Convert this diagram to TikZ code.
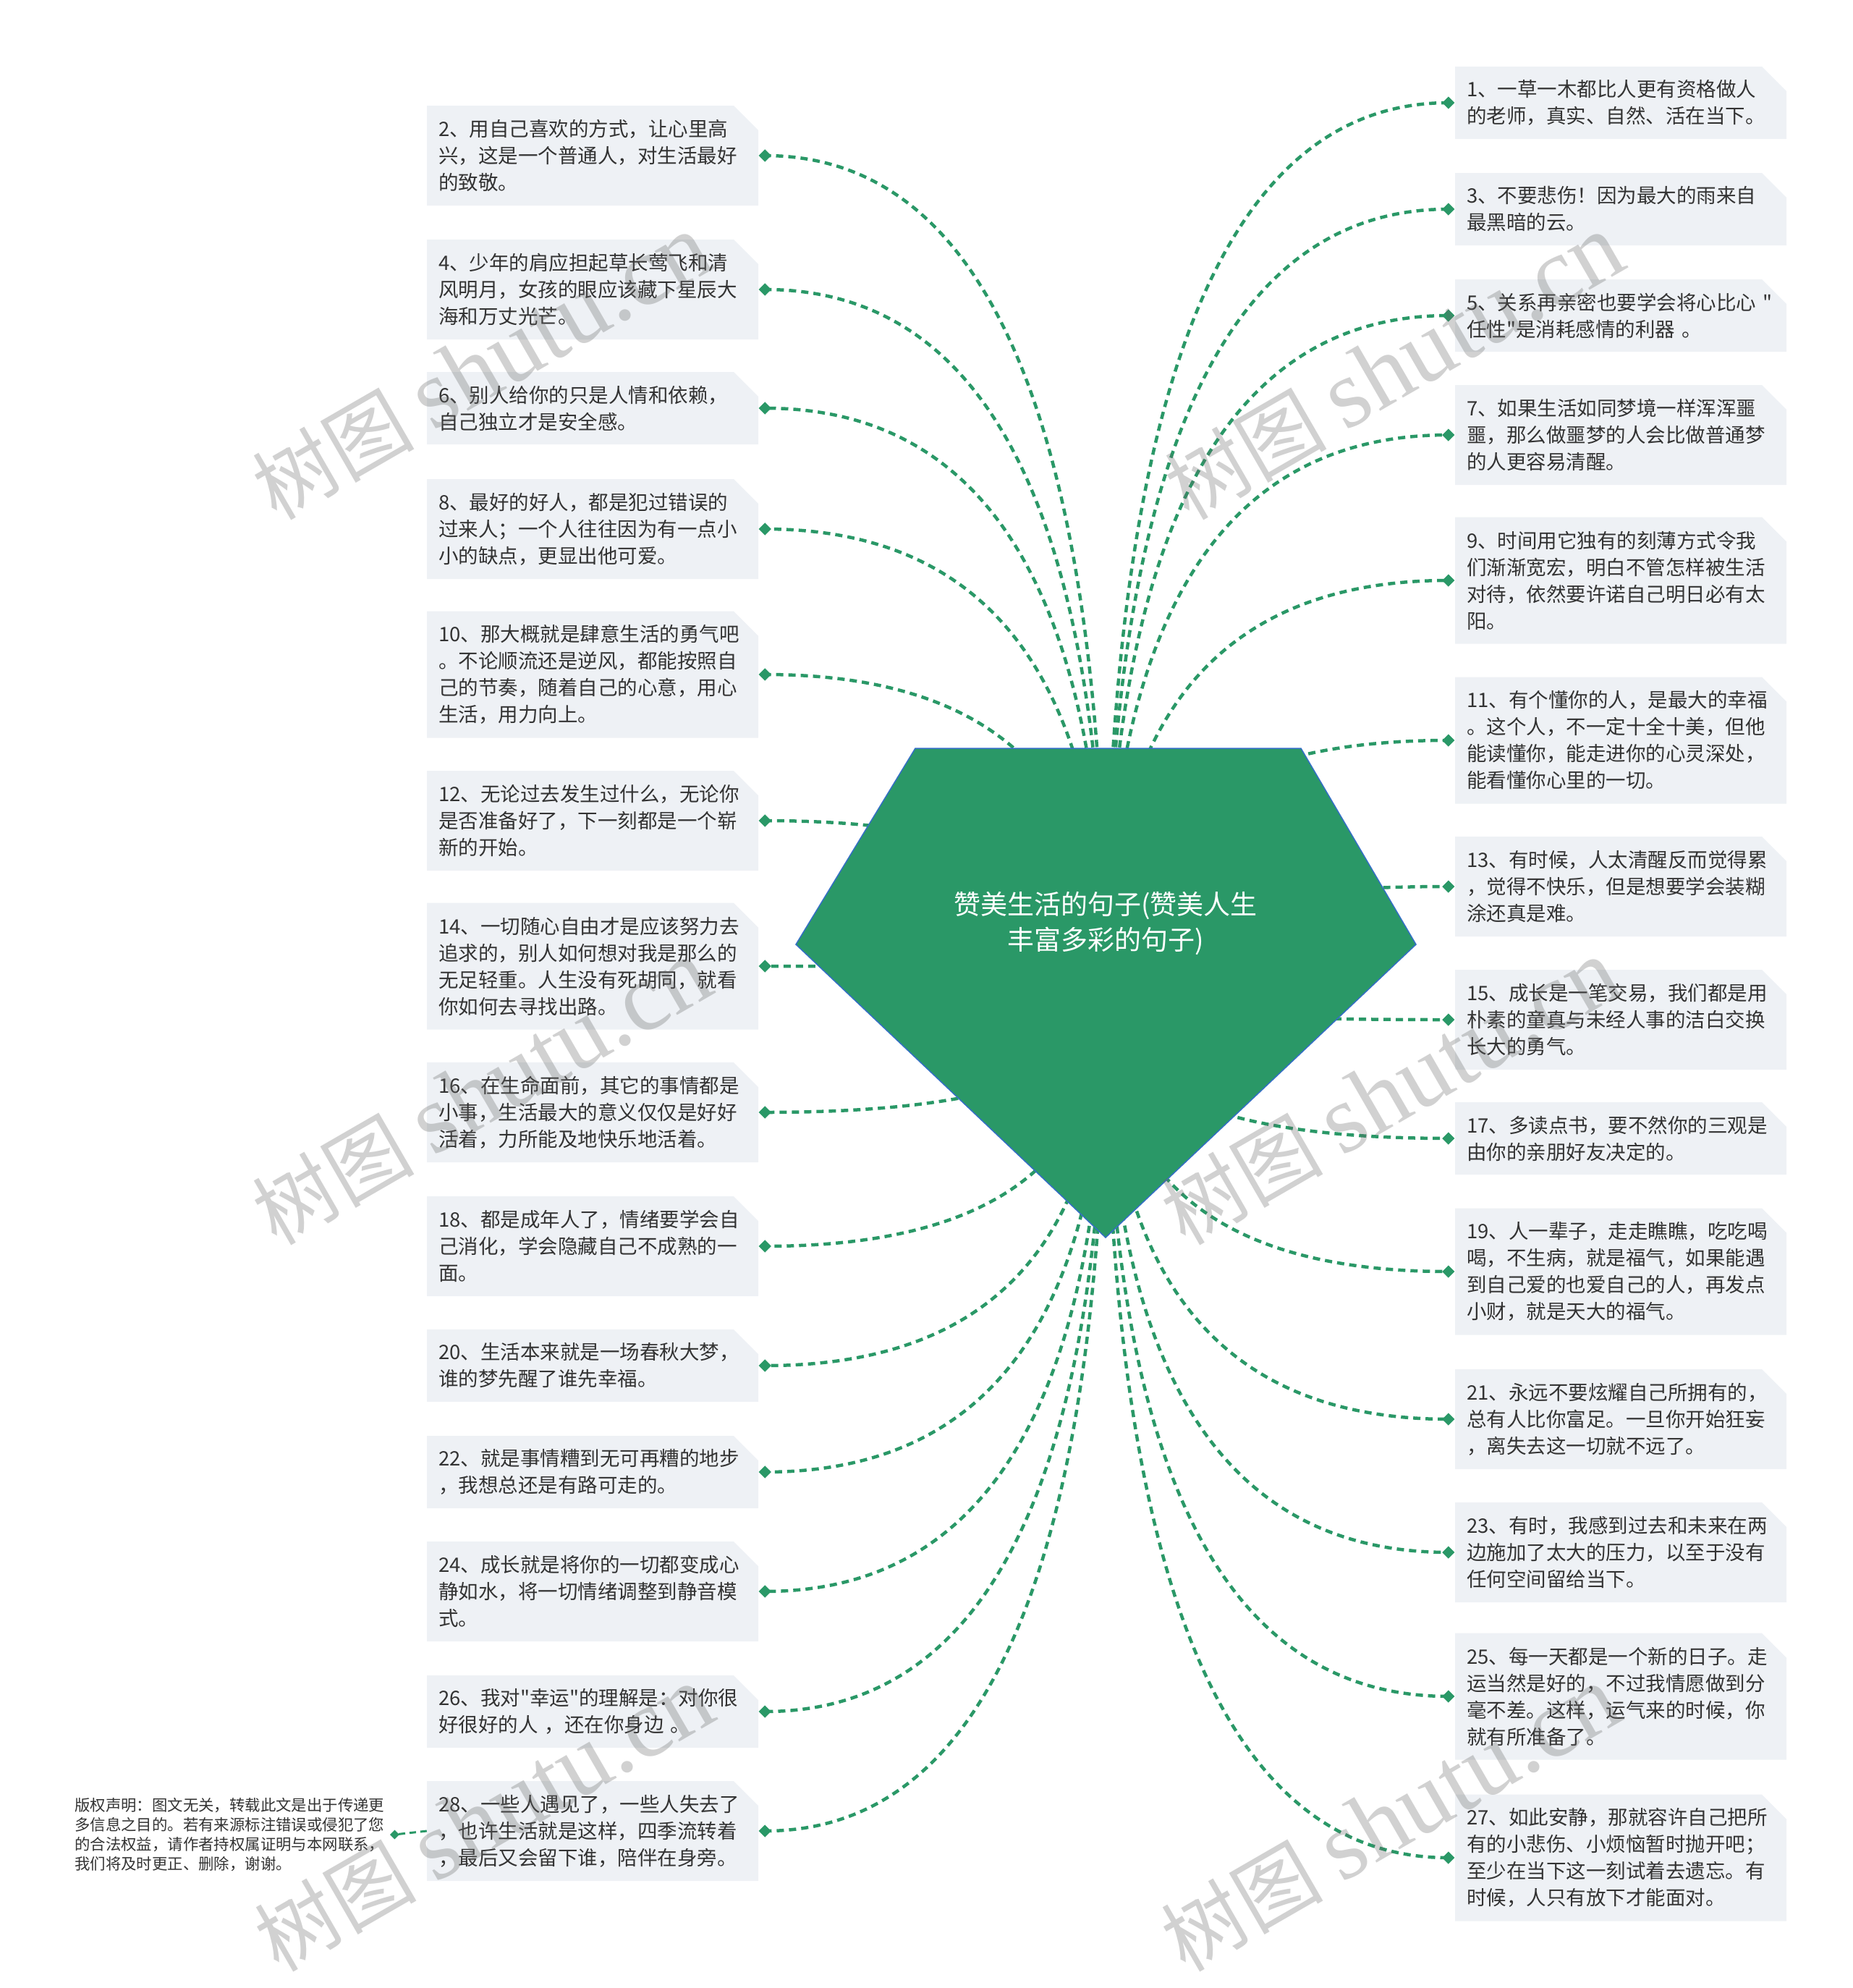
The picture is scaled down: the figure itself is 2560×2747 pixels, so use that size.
\documentclass[tikz,border=0pt]{standalone}
\usepackage{fontspec}
\setmainfont{Noto Sans CJK SC}[Ligatures=TeXOff]
\newfontfamily\wmlatin{Liberation Serif}
\usetikzlibrary{calc,shapes.geometric,shapes.misc}
\definecolor{leaf}{RGB}{42,152,103}
\definecolor{rim}{RGB}{52,110,198}
\definecolor{paper}{RGB}{238,241,245}
\definecolor{ink}{RGB}{51,51,51}
\def\linkto[#1]#2{%
  \coordinate (tip) at ([xshift=#1]#2);
  \draw[twig] (hub) .. controls ($(hub)!.667!(hub |- tip)$) and ($(tip)!.667!(hub |- tip)$) .. (tip) node[gem] {};}

\begin{document}
\begin{tikzpicture}[x=1pt, y=-1pt,
    quote/.style={chamfered rectangle, chamfered rectangle corners=north east,
      chamfered rectangle xsep=16pt, chamfered rectangle ysep=18pt,
      fill=paper, text=ink, font=\fontsize{27.5}{37}\selectfont,
      align=left, text width=426pt, inner xsep=0pt, inner ysep=0pt,
      minimum width=458pt},
    l2/.style={quote, minimum height=100pt},
    l3/.style={quote, minimum height=138pt},
    l4/.style={quote, minimum height=175pt},
    twig/.style={draw=leaf, line width=4.5pt, dash pattern=on 10pt off 7pt},
    gem/.style={diamond, solid, fill=leaf, draw=none, inner sep=0pt, minimum size=19pt},
    hubtext/.style={text=white, font=\fontsize{37}{49}\selectfont, align=center},
    notetext/.style={text=ink, font=\fontsize{21.4}{26.7}\selectfont, align=left, inner sep=0pt},
    wm/.style={text=black!60, opacity=0.3, rotate=30, font=\fontsize{112}{112}\selectfont}]
  %%%%% START %%%%%
  \useasboundingbox (0,0) rectangle (2560,2747);

  % left column
  \node[l3] (b2) at (819,215) {2、用自己喜欢的方式，让心里高\\兴，这是一个普通人，对生活最好\\的致敬。};
  \node[l3] (b4) at (819,400) {4、少年的肩应担起草长莺飞和清\\风明月，女孩的眼应该藏下星辰大\\海和万丈光芒。};
  \node[l2] (b6) at (819,564) {6、别人给你的只是人情和依赖，\\自己独立才是安全感。};
  \node[l3] (b8) at (819,731) {8、最好的好人，都是犯过错误的\\过来人；一个人往往因为有一点小\\小的缺点，更显出他可爱。};
  \node[l4] (b10) at (819,932) {10、那大概就是肆意生活的勇气吧\\。不论顺流还是逆风，都能按照自\\己的节奏，随着自己的心意，用心\\生活，用力向上。};
  \node[l3] (b12) at (819,1134) {12、无论过去发生过什么，无论你\\是否准备好了，下一刻都是一个崭\\新的开始。};
  \node[l4] (b14) at (819,1335) {14、一切随心自由才是应该努力去\\追求的，别人如何想对我是那么的\\无足轻重。人生没有死胡同，就看\\你如何去寻找出路。};
  \node[l3] (b16) at (819,1537) {16、在生命面前，其它的事情都是\\小事，生活最大的意义仅仅是好好\\活着，力所能及地快乐地活着。};
  \node[l3] (b18) at (819,1722) {18、都是成年人了，情绪要学会自\\己消化，学会隐藏自己不成熟的一\\面。};
  \node[l2] (b20) at (819,1887) {20、生活本来就是一场春秋大梦，\\谁的梦先醒了谁先幸福。};
  \node[l2] (b22) at (819,2034) {22、就是事情糟到无可再糟的地步\\，我想总还是有路可走的。};
  \node[l3] (b24) at (819,2199) {24、成长就是将你的一切都变成心\\静如水，将一切情绪调整到静音模\\式。};
  \node[l2] (b26) at (819,2365) {26、我对"幸运"的理解是：对你很\\好很好的人 ，还在你身边 。};
  \node[l3] (b28) at (819,2530) {28、一些人遇见了，一些人失去了\\，也许生活就是这样，四季流转着\\，最后又会留下谁，陪伴在身旁。};

  % right column
  \node[l2] (b1) at (2240,142) {1、一草一木都比人更有资格做人\\的老师，真实、自然、活在当下。};
  \node[l2] (b3) at (2240,289) {3、不要悲伤！因为最大的雨来自\\最黑暗的云。};
  \node[l2] (b5) at (2240,436) {5、关系再亲密也要学会将心比心 "\\任性"是消耗感情的利器 。};
  \node[l3] (b7) at (2240,601) {7、如果生活如同梦境一样浑浑噩\\噩，那么做噩梦的人会比做普通梦\\的人更容易清醒。};
  \node[l4] (b9) at (2240,802) {9、时间用它独有的刻薄方式令我\\们渐渐宽宏，明白不管怎样被生活\\对待，依然要许诺自己明日必有太\\阳。};
  \node[l4] (b11) at (2240,1023) {11、有个懂你的人，是最大的幸福\\。这个人，不一定十全十美，但他\\能读懂你，能走进你的心灵深处，\\能看懂你心里的一切。};
  \node[l3] (b13) at (2240,1225) {13、有时候，人太清醒反而觉得累\\，觉得不快乐，但是想要学会装糊\\涂还真是难。};
  \node[l3] (b15) at (2240,1409) {15、成长是一笔交易，我们都是用\\朴素的童真与未经人事的洁白交换\\长大的勇气。};
  \node[l2] (b17) at (2240,1573) {17、多读点书，要不然你的三观是\\由你的亲朋好友决定的。};
  \node[l4] (b19) at (2240,1757) {19、人一辈子，走走瞧瞧，吃吃喝\\喝，不生病，就是福气，如果能遇\\到自己爱的也爱自己的人，再发点\\小财，就是天大的福气。};
  \node[l3] (b21) at (2240,1961) {21、永远不要炫耀自己所拥有的，\\总有人比你富足。一旦你开始狂妄\\，离失去这一切就不远了。};
  \node[l3] (b23) at (2240,2145) {23、有时，我感到过去和未来在两\\边施加了太大的压力，以至于没有\\任何空间留给当下。};
  \node[l4] (b25) at (2240,2344) {25、每一天都是一个新的日子。走\\运当然是好的，不过我情愿做到分\\毫不差。这样，运气来的时候，你\\就有所准备了。};
  \node[l4] (b27) at (2240,2567) {27、如此安静，那就容许自己把所\\有的小悲伤、小烦恼暂时抛开吧；\\至少在当下这一刻试着去遗忘。有\\时候，人只有放下才能面对。};

  \node[notetext, anchor=west] (note) at (103,2535) {版权声明：图文无关，转载此文是出于传递更\\多信息之目的。若有来源标注错误或侵犯了您\\的合法权益，请作者持权属证明与本网联系，\\我们将及时更正、删除，谢谢。};

  % connectors
  \coordinate (hub) at (1528,1372);
  \linkto[9pt]{b2.east}
  \linkto[9pt]{b4.east}
  \linkto[9pt]{b6.east}
  \linkto[9pt]{b8.east}
  \linkto[9pt]{b10.east}
  \linkto[9pt]{b12.east}
  \linkto[9pt]{b14.east}
  \linkto[9pt]{b16.east}
  \linkto[9pt]{b18.east}
  \linkto[9pt]{b20.east}
  \linkto[9pt]{b22.east}
  \linkto[9pt]{b24.east}
  \linkto[9pt]{b26.east}
  \linkto[9pt]{b28.east}
  \linkto[-9pt]{b1.west}
  \linkto[-9pt]{b3.west}
  \linkto[-9pt]{b5.west}
  \linkto[-9pt]{b7.west}
  \linkto[-9pt]{b9.west}
  \linkto[-9pt]{b11.west}
  \linkto[-9pt]{b13.west}
  \linkto[-9pt]{b15.west}
  \linkto[-9pt]{b17.west}
  \linkto[-9pt]{b19.west}
  \linkto[-9pt]{b21.west}
  \linkto[-9pt]{b23.west}
  \linkto[-9pt]{b25.west}
  \linkto[-9pt]{b27.west}
  \draw[twig, line width=3pt, dash pattern=on 9pt off 6pt] (b28.west) -- ([xshift=14pt]note.east) node[gem, minimum size=14pt] {};

  % centre
  \filldraw[fill=leaf, draw=rim, line width=1.5pt] (1265,1034) -- (1798,1034) -- (1957,1305) -- (1528,1710) -- (1100,1305) -- cycle;
  \node[hubtext] (root) at (1528,1276) {赞美生活的句子(赞美人生\\丰富多彩的句子)};

  % watermarks
  \node[wm] (wm1) at (666,508) {树图 {\wmlatin\fontsize{135}{135}\selectfont shutu.cn}};
  \node[wm] (wm2) at (666,1510) {树图 {\wmlatin\fontsize{135}{135}\selectfont shutu.cn}};
  \node[wm] (wm3) at (669,2514) {树图 {\wmlatin\fontsize{135}{135}\selectfont shutu.cn}};
  \node[wm] (wm4) at (1927,508) {树图 {\wmlatin\fontsize{135}{135}\selectfont shutu.cn}};
  \node[wm] (wm5) at (1922,1510) {树图 {\wmlatin\fontsize{135}{135}\selectfont shutu.cn}};
  \node[wm] (wm6) at (1922,2514) {树图 {\wmlatin\fontsize{135}{135}\selectfont shutu.cn}};

  %%%%% END %%%%%
\end{tikzpicture}
\end{document}
